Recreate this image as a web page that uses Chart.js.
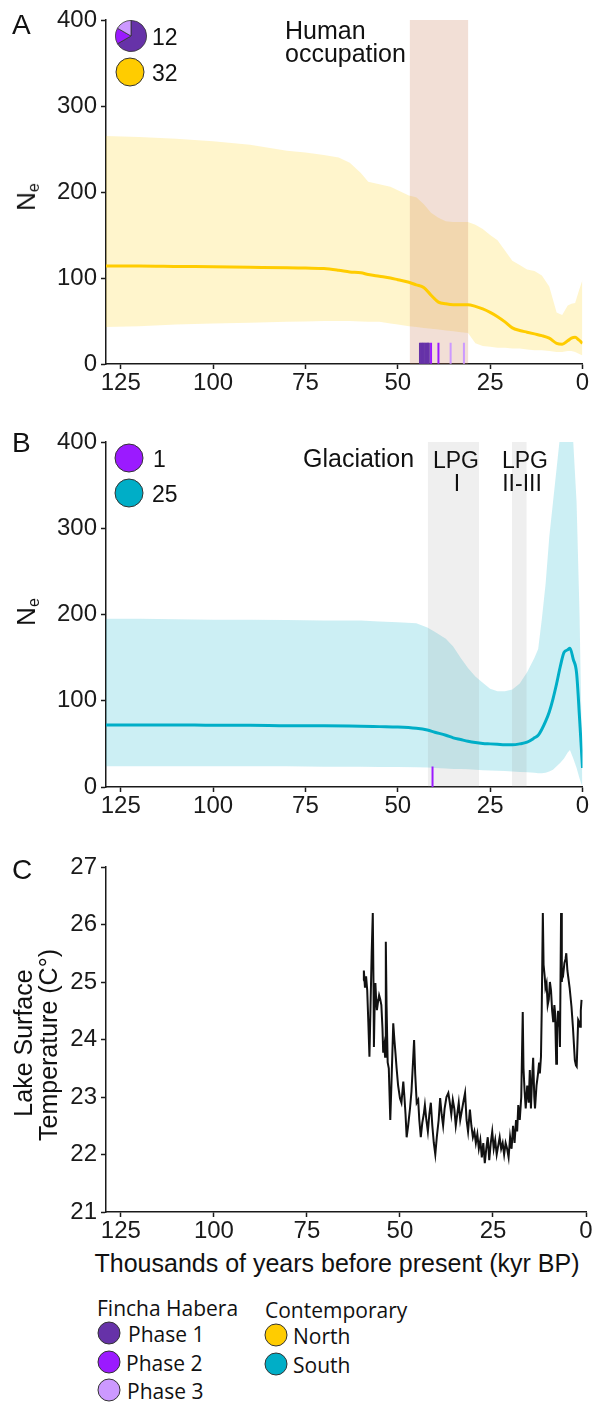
<!DOCTYPE html>
<html><head><meta charset="utf-8">
<script src="https://cdn.jsdelivr.net/npm/chart.js@4.4.0/dist/chart.umd.min.js"></script>
<style>
html,body{margin:0;padding:0;background:#fff}
body{width:595px;height:1403px;position:relative;overflow:hidden;font-family:"Liberation Sans",Arial,sans-serif;color:#111}
canvas{position:absolute;left:0}
.t{position:absolute;white-space:nowrap;line-height:1}
.c{transform:translate(-50%,-50%)}
.l{transform:translate(0,-50%)}
.r{transform:translate(-50%,-50%) rotate(-90deg)}
.dot{position:absolute;border-radius:50%;border:1px solid #333;box-sizing:border-box;transform:translate(-50%,-50%)}
.leg{font-family:"Open Sans","Noto Sans",sans-serif;font-size:21px}
sub{font-size:62%;vertical-align:-0.25em}
</style></head><body>
<canvas id="cA" width="595" height="400" style="top:0"></canvas>
<canvas id="cB" width="595" height="403" style="top:420px"></canvas>
<canvas id="cC" width="595" height="403" style="top:845px"></canvas>
<canvas id="pieA" width="32" height="32" style="left:115px;top:20px"></canvas>

<div class="t l" style="left:12px;top:25px;font-size:28px">A</div>
<div class="t l" style="left:12px;top:443px;font-size:28px">B</div>
<div class="t l" style="left:12px;top:870px;font-size:28px">C</div>

<div class="t l" style="left:152px;top:37px;font-size:23px">12</div>
<div class="dot" style="left:130px;top:72px;width:29px;height:29px;background:#FFCC00"></div>
<div class="t l" style="left:152px;top:73px;font-size:23px">32</div>
<div class="t l" style="left:285px;top:30px;font-size:25px">Human</div>
<div class="t l" style="left:285px;top:53px;font-size:25px">occupation</div>
<div class="t r" style="left:27px;top:197px;font-size:26px">N<sub>e</sub></div>

<div class="dot" style="left:129px;top:458px;width:29px;height:29px;background:#9B1AFF"></div>
<div class="t l" style="left:153px;top:459px;font-size:23px">1</div>
<div class="dot" style="left:129px;top:493px;width:29px;height:29px;background:#00AEC7"></div>
<div class="t l" style="left:152px;top:494px;font-size:23px">25</div>
<div class="t l" style="left:303px;top:458px;font-size:25px">Glaciation</div>
<div class="t c" style="left:456px;top:460px;font-size:23px">LPG</div>
<div class="t c" style="left:457px;top:483px;font-size:23px">I</div>
<div class="t c" style="left:525px;top:460px;font-size:23px">LPG</div>
<div class="t c" style="left:522px;top:483px;font-size:23px">II-III</div>
<div class="t r" style="left:27px;top:612px;font-size:26px">N<sub>e</sub></div>

<div class="t r" style="left:23px;top:1043px;font-size:25px">Lake Surface</div>
<div class="t r" style="left:48px;top:1045px;font-size:25px">Temperature (C°)</div>
<div class="t c" style="left:337px;top:1263px;font-size:25px">Thousands of years before present (kyr BP)</div>

<div class="t l leg" style="left:97px;top:1308px">Fincha Habera</div>
<div class="dot" style="left:108.5px;top:1333px;width:23px;height:23px;background:#6632A8"></div>
<div class="t l leg" style="left:128px;top:1334px">Phase 1</div>
<div class="dot" style="left:108.5px;top:1362px;width:23px;height:23px;background:#9B1AFF"></div>
<div class="t l leg" style="left:126px;top:1363px">Phase 2</div>
<div class="dot" style="left:108.5px;top:1390px;width:23px;height:23px;background:#CC99FF"></div>
<div class="t l leg" style="left:127px;top:1391px">Phase 3</div>
<div class="t l leg" style="left:265px;top:1310px">Contemporary</div>
<div class="dot" style="left:275.5px;top:1335px;width:23px;height:23px;background:#FFCC00"></div>
<div class="t l leg" style="left:293px;top:1336px">North</div>
<div class="dot" style="left:276px;top:1364px;width:23px;height:23px;background:#00AEC7"></div>
<div class="t l leg" style="left:293px;top:1365px">South</div>

<script>
// ---------- data ----------
const xTicks = [125, 100, 75, 50, 25, 0];
const neTicks = [0, 100, 200, 300, 400];
const tempTicks = [21, 22, 23, 24, 25, 26, 27];

// Panel A: North
const ageA   = [129,120,110,100,90,80,75,70,66,63,60,58,55,52,50,47,45,43,41,39,37,35,33,31,29,27,25,23,21,19,17,15,13,11,9,7,5.5,4,3,2,1,0];
const meanA  = [114,114,113.5,113,112.5,112,111.5,111,109,107,106,104,102,100,98,95,92,89,80,72,70,69,69,69,67,64,60,55,49,42,39,37,35,33,30,24,23,27,30,31,28,24];
const upperA = [265,264,262,259,255,248,246,243,240,234,222,212,209,206,202,196,194,186,176,170,166,165,165,165,162,157,150,144,132,120,115,110,108,103,90,60,57,68,70,71,85,98];
const lowerA = [43,44,46,47,48,49,49.5,50,50,50,49.5,49,49,47,46,44,43,42,41,40,39,38,37,36,24,21,20,19,19,18,18,17,16,16,15,14,14,15,15,14,12,10];
const occupation = [46.8, 30.9];
const phase1A = [44.0,43.6,43.3,43.0,42.6,42.2,41.9,41.6];
const phase2A = [41.0,39.0];
const phase3A = [35.7,32.1];
const pieCountsA = [8,2,2];

// Panel B: South
const ageB   = [129,120,110,100,90,80,70,60,55,50,45,42,40,37,35,33,31,29,27,25,23,21,19,17,15,13,12,11,10,9,8,7,6,5,4,3.4,2.5,1.6,0.8,0];
const meanB  = [72,72,72,71.5,71.5,71,71,70.5,70,69.5,68,66,63.5,60,57,55,53,51.5,50.5,50,49.5,49,49,50,52,57,60,67,76,87,102,120,140,156,159,161,148,132,80,22];
const upperB = [195,195,194.5,194,194,193.5,193,193,192,191,190,185,180,172,163,150,138,128,121,114,111,111,113,120,133,150,160,195,235,290,330,370,410,450,470,460,400,330,200,10];
const lowerB = [24,24,24,24,24,24,23.5,23.5,23.3,23.2,23,22.5,22,21.5,21,20.8,20.5,20,19.5,19,18.8,18.5,18,17.5,17,16.5,16,16,16.5,18,20,24,28,33,40,43,33,22,10,0];
const lpg1 = [41.9, 28.0];
const lpg23 = [19.1, 15.1];
const phase2B = [40.6];

// Panel C: lake surface temperature
const tempAge = [59.9,59.7,59.4,59.1,58.8,58.5,58.2,57.9,57.6,57.3,57.1,57.0,56.8,56.6,56.4,56.2,55.9,55.6,55.3,55.0,54.7,54.5,54.2,54.0,53.8,53.6,53.3,53.0,52.6,52.3,51.8,51.5,51.2,50.9,50.5,50.0,49.6,49.1,48.8,48.5,48.2,47.8,47.3,46.9,46.5,46.2,45.9,45.5,45.1,44.8,44.4,44.0,43.6,43.3,42.9,42.5,42.1,41.7,41.3,40.9,40.5,40.1,39.6,39.2,38.8,38.4,38.0,37.5,37.0,36.6,36.2,35.8,35.4,35.0,34.6,34.2,33.8,33.4,33.0,32.5,32.1,31.7,31.2,30.8,30.4,30.0,29.6,29.2,28.8,28.4,28.0,27.6,27.2,26.8,26.4,26.0,25.6,25.2,24.8,24.4,24.0,23.6,23.2,22.8,22.4,22.0,21.6,21.2,20.8,20.4,20.0,19.6,19.2,18.8,18.5,18.2,17.8,17.4,17.0,16.8,16.5,16.2,15.8,15.4,15.1,14.8,14.5,14.2,13.9,13.7,13.3,12.9,12.6,12.4,12.1,11.9,11.6,11.4,11.1,10.9,10.6,10.3,10.0,9.7,9.4,9.1,8.8,8.5,8.3,8.0,7.8,7.5,7.2,7.0,6.7,6.5,6.3,6.1,5.8,5.5,5.3,5.0,4.8,4.4,3.9,3.5,3.0,2.7,2.5,2.1,1.8,1.6,1.4,1.2];
const tempVal = [25.03,25.2,24.9,25.1,24.86,24.3,23.7,24.6,25.5,26.2,24.9,23.87,24.6,24.98,24.7,24.51,24.65,24.77,24.7,24.6,24.2,23.77,23.9,23.7,25.7,24.6,23.6,23.5,22.6,23.2,24.28,24.0,23.76,23.5,23.2,22.98,22.9,23.27,23.0,22.7,22.3,22.5,22.8,23.1,23.6,23.99,23.4,22.9,22.95,22.6,22.3,22.55,22.7,22.86,22.6,22.4,22.7,22.9,22.5,22.2,22.0,22.3,22.6,22.98,22.7,22.5,22.8,23.0,23.07,22.9,22.7,22.95,22.8,22.5,22.7,22.9,22.6,22.75,22.9,23.07,22.6,22.4,22.78,22.5,22.3,22.4,22.2,22.35,22.1,22.25,21.95,22.2,21.85,22.1,22.3,21.9,22.2,22.4,22.1,22.25,22.0,22.15,22.3,22.1,22.2,22.0,22.2,22.1,21.95,22.3,22.1,22.5,22.2,22.6,22.4,22.86,22.6,23.0,24.48,23.5,23.1,22.8,23.2,22.9,23.47,22.8,23.3,23.68,23.0,22.8,23.2,23.4,23.6,23.41,23.7,24.5,26.2,25.3,25.1,24.9,24.98,24.6,24.7,25.0,24.85,24.5,24.3,24.6,24.46,23.58,24.2,24.5,24.2,23.87,26.2,25.0,25.2,25.15,25.33,25.4,25.5,25.2,25.1,24.9,24.57,24.2,23.64,23.55,23.53,24.34,24.3,24.22,24.5,24.69];

// ---------- colours ----------
const NORTH = '#FFCC00', SOUTH = '#00AEC7';
const P1 = '#6632A8', P2 = '#9B1AFF', P3 = '#CC99FF';

// ---------- helpers ----------
const pts = (xs, ys) => xs.map((x, i) => ({x, y: ys[i]}));
const ink = '#1a1a1a';

function axes(yTicks, yMin, yMax, xAxisH) {
  return {
    x: {
      type: 'linear', reverse: true, min: 0, max: 129,
      afterBuildTicks: s => { s.ticks = xTicks.map(v => ({value: v})); },
      afterFit: s => { s.height = xAxisH; },
      ticks: {font: {size: 24}, color: ink, padding: 0, maxRotation: 0, autoSkip: false},
      grid: {drawOnChartArea: false, tickLength: 5, tickColor: ink, tickWidth: 1.5},
      border: {color: ink, width: 1.5}
    },
    y: {
      type: 'linear', min: yMin, max: yMax,
      afterBuildTicks: s => { s.ticks = yTicks.map(v => ({value: v})); },
      afterFit: s => { s.width = 106; },
      ticks: {font: {size: 24}, color: ink, padding: 4},
      grid: {drawOnChartArea: false, tickLength: 5, tickColor: ink, tickWidth: 1.5},
      border: {color: ink, width: 1.5}
    }
  };
}
function rect(range, top, color, order) {
  return {data: [{x: range[0], y: top}, {x: range[1], y: top}], fill: 'start',
    backgroundColor: color, borderWidth: 0, pointRadius: 0, order};
}
function marks(ages, y, color, order) {
  return {data: ages.map(a => ({x: a, y})), showLine: false, pointStyle: 'line',
    pointRotation: 90, pointRadius: 10.5, pointBorderWidth: 2, pointBorderColor: color,
    borderColor: color, order};
}
const base = {
  responsive: false, animation: false, devicePixelRatio: 1,
  plugins: {legend: {display: false}, tooltip: {enabled: false}},
  elements: {point: {radius: 0}}
};
Chart.defaults.font.family = '"Liberation Sans", Arial, sans-serif';

// ---------- Panel A ----------
new Chart(document.getElementById('cA'), {
  type: 'line',
  data: {datasets: [
    {data: pts(ageA, meanA), borderColor: NORTH, borderWidth: 3, pointRadius: 0, cubicInterpolationMode: 'monotone', order: 0},
    marks(phase3A, 12.5, P3, 1),
    marks(phase2A, 12.5, P2, 1),
    marks(phase1A, 12.5, P1, 1),
    rect(occupation, 400, 'rgba(200,120,80,0.235)', 2),
    {data: pts(ageA, upperA), borderWidth: 0, pointRadius: 0, fill: '+1', backgroundColor: 'rgba(255,204,0,0.2)', order: 3},
    {data: pts(ageA, lowerA), borderWidth: 0, pointRadius: 0, fill: false, order: 4}
  ]},
  options: Object.assign({}, base, {
    layout: {padding: {left: 0, right: 9, top: 20, bottom: 0}},
    scales: axes(neTicks, 0, 400, 36)
  })
});

// ---------- Panel B ----------
new Chart(document.getElementById('cB'), {
  type: 'line',
  data: {datasets: [
    {data: pts(ageB, meanB), borderColor: SOUTH, borderWidth: 3, pointRadius: 0, cubicInterpolationMode: 'monotone', order: 0},
    marks(phase2B, 11.5, P2, 1),
    rect(lpg1, 400, 'rgba(128,128,128,0.13)', 2),
    rect(lpg23, 400, 'rgba(128,128,128,0.13)', 2),
    {data: pts(ageB, upperB), borderWidth: 0, pointRadius: 0, fill: '+1', backgroundColor: 'rgba(0,174,199,0.2)', order: 3},
    {data: pts(ageB, lowerB), borderWidth: 0, pointRadius: 0, fill: false, order: 4}
  ]},
  options: Object.assign({}, base, {
    layout: {padding: {left: 0, right: 9, top: 22, bottom: 0}},
    scales: axes(neTicks, 0, 400, 36)
  })
});

// ---------- Panel C ----------
new Chart(document.getElementById('cC'), {
  type: 'line',
  data: {datasets: [
    {data: pts(tempAge, tempVal), borderColor: '#111', borderWidth: 2, pointRadius: 0, tension: 0}
  ]},
  options: Object.assign({}, base, {
    layout: {padding: {left: 0, right: 9, top: 22, bottom: 0}},
    scales: axes(tempTicks, 21, 27, 36)
  })
});

// ---------- pie legend (A) ----------
new Chart(document.getElementById('pieA'), {
  type: 'pie',
  data: {datasets: [{data: pieCountsA, backgroundColor: [P1, P2, P3], borderColor: '#333', borderWidth: 0.8}]},
  options: {responsive: false, animation: false, devicePixelRatio: 1,
    plugins: {legend: {display: false}, tooltip: {enabled: false}}, layout: {padding: 0}}
});
</script>
</body></html>
